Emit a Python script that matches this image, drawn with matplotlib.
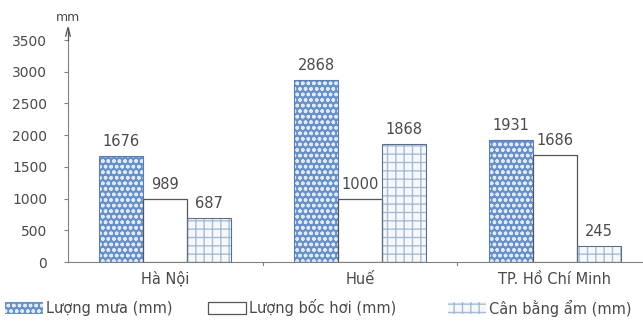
import matplotlib
matplotlib.use("Agg")
import matplotlib.pyplot as plt
import numpy as np
from matplotlib.patches import Rectangle

plt.rcParams['font.family'] = ['DejaVu Sans']
plt.rcParams['hatch.linewidth'] = 1.0

cities = ["Hà Nội", "Huế", "TP. Hồ Chí Minh"]
rain = [1676, 2868, 1931]
evap = [989, 1000, 1686]
balance = [687, 1868, 245]
series_names = ["Lượng mưa (mm)", "Lượng bốc hơi (mm)", "Cân bằng ẩm (mm)"]
yticks = [0, 500, 1000, 1500, 2000, 2500, 3000, 3500]

text_col = "#4a4a4a"
axis_col = "#808080"
rain_face, rain_dot = "#6890c8", "#dfeaf6"
grid_face, grid_line = "#f5f8fc", "#a9bbd3"

fig = plt.figure(figsize=(6.43, 3.25), dpi=100)
W, H = 643, 325
x0, x1 = 68, 652
y0, y1 = 262, 40  # pixel rows for 0 and 3500
ax = fig.add_axes([x0 / W, 1 - y0 / H, (x1 - x0) / W, (y0 - y1) / H])

x = np.arange(len(cities))
bw = 0.226

# rain bars: blue with light dot pattern
ax.bar(x - bw, rain, bw, color=rain_face, hatch="ooo", edgecolor=rain_dot, lw=0, zorder=2)
ax.bar(x - bw, rain, bw, color="none", edgecolor="#5a7fb0", lw=0.8, zorder=3)
# evaporation bars: plain white
ax.bar(x, evap, bw, color="white", edgecolor="#555555", lw=0.9, zorder=3)
# moisture balance bars: light grid
ax.bar(x + bw, balance, bw, color=grid_face, hatch="++", edgecolor=grid_line, lw=0, zorder=2)
ax.bar(x + bw, balance, bw, color="none", edgecolor="#5c6f88", lw=0.8, zorder=3)

for xs, vals in ((x - bw, rain), (x, evap), (x + bw, balance)):
    for xi, v in zip(xs, vals):
        ax.text(xi, v + 110, str(v), ha="center", va="bottom", fontsize=10.5, color=text_col)

ax.set_xlim(-0.5, 2.5)
ax.set_ylim(0, 3500)
ax.set_yticks(yticks)
ax.set_yticklabels([str(t) for t in yticks], fontsize=10, color=text_col)
ax.set_xticks(x)
ax.set_xticklabels(cities, fontsize=10.5, color=text_col)
ax.tick_params(axis="x", length=0, pad=7)
ax.tick_params(axis="y", length=3, color=axis_col, direction="out", pad=12)
for b in [0.5, 1.5]:
    ax.plot([b, b], [0, -45], color=axis_col, lw=0.8, clip_on=False)

for s in ["top", "right"]:
    ax.spines[s].set_visible(False)
ax.spines["left"].set_color(axis_col)
ax.spines["bottom"].set_color(axis_col)

# y-axis arrow and unit
ax.plot([-0.5, -0.5], [3500, 3690], color="#555555", lw=0.9, clip_on=False, zorder=4)
ax.plot([-0.512, -0.5, -0.488], [3560, 3700, 3560], color="#555555", lw=0.9,
        clip_on=False, zorder=4, solid_joinstyle="miter")
ax.text(-0.5, 3750, "mm", ha="center", va="bottom", fontsize=9, color=text_col)

# legend row laid out along the bottom edge
legend_items = [
    (5, dict(facecolor=rain_face, hatch="ooo", edgecolor=rain_dot, lw=0)),
    (208, dict(facecolor="white", edgecolor="#555555", lw=0.9)),
    (448, dict(facecolor=grid_face, hatch="++", edgecolor=grid_line, lw=0)),
]
ly = 308
for (px, style), name in zip(legend_items, series_names):
    fig.add_artist(Rectangle((px / W, 1 - (ly + 6) / H), 38 / W, 12 / H,
                             transform=fig.transFigure, **style))
    fig.text((px + 41) / W, 1 - ly / H, name, ha="left", va="center",
             fontsize=10.5, color=text_col)

fig.savefig("out.png", dpi=100)
